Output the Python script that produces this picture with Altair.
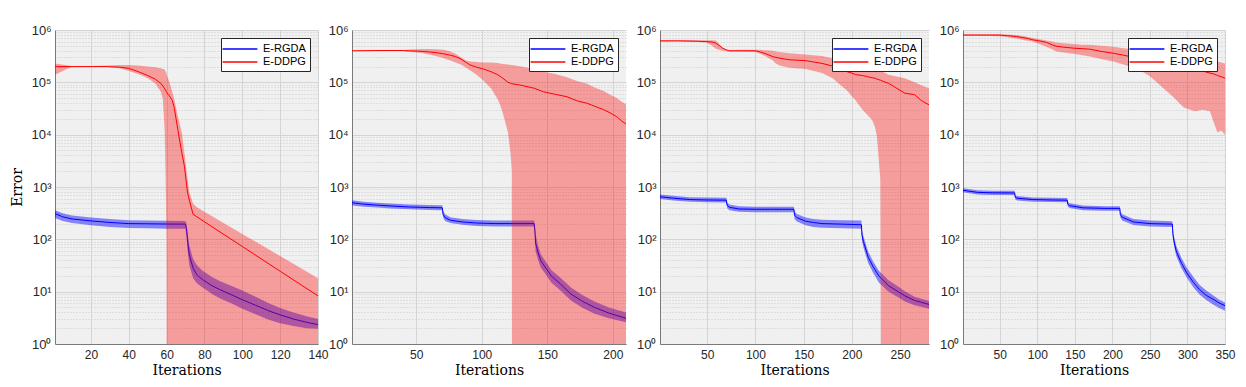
import altair as alt
import pandas as pd

SERIES = ["E-RGDA", "E-DDPG"]
COLORS = ["#0000ff", "#ff0000"]
Y_TICKS = [1, 2, 3, 4, 5, 6, 7, 8, 9, 10, 20, 30, 40, 50, 60, 70, 80, 90,
           100, 200, 300, 400, 500, 600, 700, 800, 900,
           1000, 2000, 3000, 4000, 5000, 6000, 7000, 8000, 9000,
           10000, 20000, 30000, 40000, 50000, 60000, 70000, 80000, 90000,
           100000, 200000, 300000, 400000, 500000, 600000, 700000, 800000, 900000, 1000000]
X_MAX = [140, 210, 280, 350]
X_TICKS = [[20, 40, 60, 80, 100, 120, 140], [50, 100, 150, 200],
           [50, 100, 150, 200, 250], [50, 100, 150, 200, 250, 300, 350]]
WIDTHS = [263, 274, 269, 262]

# ---------------- panel 1 ----------------
P1_DD_X = [1, 10, 20, 28, 35, 40, 45, 50, 54, 57, 58, 59, 59.5, 59.9, 60, 61.5, 63, 64, 66, 68,
           69.4, 71, 72, 74, 76, 80, 100, 120, 140]
P1_DD_MEAN = [2.0e5, 2.0e5, 2.0e5, 2.0e5, 1.95e5, 1.85e5, 1.6e5, 1.35e5, 1.15e5, 9.5e4,
              8.5e4, 7.5e4, 7.0e4, 6.6e4, 6.4e4, 5.5e4, 4.5e4, 3.3e4, 1.2e4, 4.5e3,
              2.5e3, 800, 560, 300, 270, 216, 73, 24.6, 8.3]
P1_DD_HI = [2.3e5, 2.05e5, 2.05e5, 2.1e5, 2.15e5, 2.15e5, 2.1e5, 2.0e5, 1.95e5, 1.85e5,
            1.8e5, 1.75e5, 1.6e5, 1.5e5, 1.4e5, 1.0e5, 6.5e4, 4.8e4, 2.2e4, 1.1e4,
            4.5e3, 1.5e3, 800, 480, 410, 336, 127, 48, 18]
P1_DD_LO = [1.4e5, 2.0e5, 2.0e5, 1.98e5, 1.85e5, 1.65e5, 1.44e5, 1.2e5, 9.5e4, 6.5e4,
            4.8e4, 1.1e4, 1.2e3, 100, 1, 1, 1, 1, 1, 1,
            1, 1, 1, 1, 1, 1, 1, 1, 1]
P1_RG_X = [1, 5, 10, 20, 30, 40, 50, 60, 69.9, 70.5, 71, 72, 74, 76, 79, 84, 88, 95, 100, 107,
           114, 120, 127, 134, 140]
P1_RG_MEAN = [310, 270, 245, 225, 210, 200, 198, 196, 195, 160, 100, 50, 28, 21, 17, 13, 11, 8.5, 7, 5.5,
              4.3, 3.6, 3.0, 2.6, 2.35]
P1_RG_HI = [360, 315, 285, 260, 245, 232, 228, 226, 225, 200, 140, 75, 42, 32, 25, 19, 16, 12.5, 10.5, 8,
            6, 4.9, 4, 3.4, 3.0]
P1_RG_LO = [255, 225, 205, 185, 172, 165, 162, 160, 160, 120, 65, 32, 18, 14.5, 12, 9, 7.5, 5.8, 4.7, 3.7,
            2.9, 2.5, 2.2, 2.0, 1.95]

# ---------------- panel 2 ----------------
P2_DD_X = [1, 20, 40, 45, 50, 55, 60, 65, 71, 76, 80, 84, 88, 91, 96, 101, 107, 112, 114, 116,
           120, 122, 122.9, 123, 130, 140, 147, 156, 165, 173, 180, 186, 193, 198, 203, 207, 210]
P2_DD_MEAN = [4.0e5, 4.05e5, 4.05e5, 4.0e5, 3.95e5, 3.9e5, 3.8e5, 3.7e5, 3.5e5, 3.3e5,
              3.1e5, 2.8e5, 2.4e5, 2.15e5, 1.95e5, 1.8e5, 1.6e5, 1.4e5, 1.3e5, 1.2e5,
              1.0e5, 9.6e4, 9.4e4, 9.4e4, 8.8e4, 7.7e4, 6.6e4, 5.9e4, 5.3e4, 4.4e4,
              4.0e4, 3.5e4, 3.0e4, 2.6e4, 2.2e4, 1.8e4, 1.6e4]
P2_DD_HI = [4.05e5, 4.1e5, 4.15e5, 4.25e5, 4.3e5, 4.35e5, 4.35e5, 4.3e5, 4.2e5, 3.9e5,
            3.5e5, 3.0e5, 2.6e5, 2.5e5, 2.45e5, 2.4e5, 2.4e5, 2.35e5, 2.3e5, 2.25e5,
            2.2e5, 2.15e5, 2.15e5, 2.15e5, 2.0e5, 1.8e5, 1.6e5, 1.45e5, 1.25e5, 1.05e5,
            9.5e4, 8.0e4, 6.8e4, 5.8e4, 5.0e4, 4.2e4, 3.8e4]
P2_DD_LO = [3.95e5, 4.0e5, 3.95e5, 3.8e5, 3.7e5, 3.6e5, 3.4e5, 3.2e5, 2.9e5, 2.6e5,
            2.4e5, 2.2e5, 1.9e5, 1.7e5, 1.4e5, 1.1e5, 7.7e4, 4.8e4, 3.7e4, 2.6e4,
            1.1e4, 4.2e3, 2.0e3, 1, 1, 1, 1, 1, 1, 1,
            1, 1, 1, 1, 1, 1, 1]
P2_RG_X = [1, 10, 20, 30, 45, 60, 69.9, 70.5, 72, 76, 85, 96, 110, 122, 139.9, 140.5, 141, 143, 145, 149,
           153, 160, 168, 177, 186, 197, 210]
P2_RG_MEAN = [500, 470, 450, 435, 415, 405, 400, 300, 260, 232, 215, 205, 200, 200, 200, 150, 85, 55, 39, 28,
              20, 14, 9, 6.5, 5, 3.9, 3.1]
P2_RG_HI = [560, 525, 500, 485, 465, 455, 450, 350, 300, 265, 245, 235, 230, 228, 228, 190, 125, 75, 52, 37,
            26, 18.5, 12, 8.5, 6.5, 5, 4.0]
P2_RG_LO = [445, 420, 405, 390, 375, 365, 360, 260, 225, 205, 190, 180, 176, 176, 176, 115, 60, 40, 29, 21,
            15, 10.5, 6.8, 4.9, 3.8, 3.1, 2.6]

# ---------------- panel 3 ----------------
P3_DD_X = [1, 20, 40, 49, 55, 59, 62, 66, 70, 73, 85, 100, 105, 111, 118, 121, 125, 135, 152, 169,
           180, 186, 195, 200, 204, 211, 215, 221, 224, 226, 229.5, 230, 232, 238, 245, 255, 265, 272, 280]
P3_DD_MEAN = [6.2e5, 6.2e5, 6.1e5, 6.0e5, 5.9e5, 5.6e5, 5.1e5, 4.5e5, 4.15e5, 4.0e5,
              4.0e5, 4.0e5, 3.8e5, 3.5e5, 3.1e5, 3.0e5, 2.9e5, 2.7e5, 2.6e5, 2.3e5,
              2.05e5, 1.9e5, 1.6e5, 1.5e5, 1.4e5, 1.35e5, 1.3e5, 1.22e5, 1.2e5, 1.15e5,
              1.1e5, 1.1e5, 1.05e5, 9.6e4, 8.0e4, 6.2e4, 5.8e4, 4.5e4, 3.7e4]
P3_DD_HI = [6.4e5, 6.4e5, 6.4e5, 6.4e5, 6.4e5, 6.3e5, 5.5e5, 4.6e5, 4.2e5, 4.15e5,
            4.2e5, 4.2e5, 4.2e5, 4.1e5, 4.0e5, 3.9e5, 3.8e5, 3.6e5, 3.4e5, 3.2e5,
            2.9e5, 2.6e5, 2.35e5, 2.25e5, 2.15e5, 2.05e5, 2.0e5, 1.9e5, 1.8e5, 1.75e5,
            1.65e5, 1.65e5, 1.6e5, 1.4e5, 1.3e5, 1.2e5, 1.0e5, 8.8e4, 7.7e4]
P3_DD_LO = [6.0e5, 6.0e5, 5.9e5, 5.8e5, 5.0e5, 4.4e5, 4.2e5, 4.0e5, 3.95e5, 3.9e5,
            3.9e5, 3.8e5, 3.5e5, 3.1e5, 2.6e5, 2.3e5, 2.1e5, 1.9e5, 1.8e5, 1.5e5,
            1.2e5, 9.6e4, 7.0e4, 5.4e4, 4.5e4, 3.0e4, 2.5e4, 1.9e4, 1.4e4, 9.3e3,
            1.4e3, 1, 1, 1, 1, 1, 1, 1, 1]
P3_RG_X = [1, 15, 32, 50, 69.9, 70.5, 73, 83, 100, 120, 139.9, 140.5, 143, 152, 160, 169, 190, 209.9, 210.5, 212,
           217, 222, 228, 238, 248, 255, 265, 280]
P3_RG_MEAN = [650, 610, 575, 565, 560, 450, 410, 380, 375, 375, 375, 290, 260, 222, 210, 200, 195, 190, 120, 90,
              45, 30, 20, 13, 10, 8.3, 6.8, 5.7]
P3_RG_HI = [720, 680, 640, 630, 625, 510, 465, 430, 420, 420, 420, 340, 305, 262, 245, 238, 232, 230, 150, 115,
            58, 38, 25, 16.5, 12.5, 10.2, 8, 6.6]
P3_RG_LO = [590, 550, 520, 510, 505, 395, 360, 335, 330, 330, 330, 245, 220, 185, 172, 166, 163, 160, 95, 70,
            35, 23, 15, 10, 7.8, 6.5, 5.5, 4.7]

# ---------------- panel 4 ----------------
P4_DD_X = [0, 20, 50, 60, 72, 85, 94, 105, 112, 120, 125, 135, 148, 160, 170, 185, 201, 215, 228, 240,
           250, 265, 280, 295, 310, 320, 330, 335, 340, 345, 350]
P4_DD_MEAN = [8.0e5, 8.0e5, 8.0e5, 7.8e5, 7.5e5, 7.0e5, 6.5e5, 6.1e5, 5.8e5, 5.2e5,
              4.9e5, 4.7e5, 4.5e5, 4.4e5, 4.3e5, 3.9e5, 3.6e5, 3.3e5, 3.0e5, 2.8e5,
              2.6e5, 2.3e5, 2.1e5, 1.9e5, 1.75e5, 1.65e5, 1.5e5, 1.45e5, 1.35e5, 1.28e5, 1.2e5]
P4_DD_HI = [8.3e5, 8.3e5, 8.3e5, 8.2e5, 8.0e5, 7.5e5, 7.0e5, 6.6e5, 6.3e5, 6.0e5,
            5.8e5, 5.6e5, 5.4e5, 5.2e5, 5.2e5, 5.0e5, 4.8e5, 4.5e5, 4.3e5, 4.0e5,
            3.8e5, 3.6e5, 3.4e5, 3.2e5, 3.0e5, 2.9e5, 2.7e5, 2.6e5, 2.5e5, 2.4e5, 2.3e5]
P4_DD_LO = [7.8e5, 7.8e5, 7.6e5, 7.3e5, 6.9e5, 6.3e5, 6.0e5, 5.2e5, 4.8e5, 4.3e5,
            3.9e5, 3.7e5, 3.5e5, 3.3e5, 3.1e5, 2.8e5, 2.5e5, 2.2e5, 1.9e5, 1.6e5,
            1.3e5, 8.4e4, 5.4e4, 3.3e4, 2.8e4, 3.0e4, 2.8e4, 1.7e4, 1.1e4, 1.2e4, 1.0e4]
P4_RG_X = [0, 20, 40, 69.9, 70.5, 73, 94, 120, 139.9, 140.5, 143, 161, 190, 209.9, 210.5, 213, 228, 250, 279.9, 280.5,
           282, 285, 292, 299, 308, 316, 325, 334, 342, 350]
P4_RG_MEAN = [870, 790, 775, 770, 640, 610, 575, 565, 560, 470, 440, 400, 390, 390, 300, 265, 215, 200, 195, 130,
              94, 60, 35, 23, 15, 11, 8.5, 7.2, 6.1, 5.4]
P4_RG_HI = [950, 870, 850, 845, 700, 670, 630, 620, 615, 520, 490, 445, 430, 430, 340, 300, 245, 228, 222, 160,
            115, 75, 44, 29, 19, 13.5, 10.5, 8.5, 7.1, 6.2]
P4_RG_LO = [800, 720, 705, 700, 585, 555, 525, 515, 510, 425, 395, 360, 352, 350, 260, 230, 188, 175, 172, 105,
            75, 48, 28, 18.6, 12, 8.8, 6.9, 5.7, 4.9, 4.3]

PANELS = [
    (P1_RG_X, P1_RG_MEAN, P1_RG_LO, P1_RG_HI, P1_DD_X, P1_DD_MEAN, P1_DD_LO, P1_DD_HI),
    (P2_RG_X, P2_RG_MEAN, P2_RG_LO, P2_RG_HI, P2_DD_X, P2_DD_MEAN, P2_DD_LO, P2_DD_HI),
    (P3_RG_X, P3_RG_MEAN, P3_RG_LO, P3_RG_HI, P3_DD_X, P3_DD_MEAN, P3_DD_LO, P3_DD_HI),
    (P4_RG_X, P4_RG_MEAN, P4_RG_LO, P4_RG_HI, P4_DD_X, P4_DD_MEAN, P4_DD_LO, P4_DD_HI),
]

MAJOR = "abs(log(datum.value)/LN10 - round(log(datum.value)/LN10)) < 0.001"
SUP = "['\u2070','\u00b9','\u00b2','\u00b3','\u2074','\u2075','\u2076']"
LABEL_EXPR = f"{MAJOR} ? '10' + {SUP}[round(log(datum.value)/LN10)] : ''"

LABEL_FONT = "Liberation Sans"
TITLE_FONT = "DejaVu Serif"


def y_axis(show_title):
    kw = dict(values=Y_TICKS, labelExpr=LABEL_EXPR, labelOverlap=False, grid=True,
              gridDash={"condition": {"test": MAJOR, "value": []}, "value": [1, 2]},
              gridColor={"condition": {"test": MAJOR, "value": "#d4d4d4"}, "value": "#cccccc"},
              ticks=False, domainColor="#7a7a7a", labelFont=LABEL_FONT, labelFontSize=13,
              labelColor="#262626", labelPadding=4, minExtent=28, maxExtent=28)
    if show_title:
        kw.update(title="Error", titleFont=TITLE_FONT, titleFontSize=14, titleFontWeight="normal",
                  titleColor="#000000", titlePadding=3)
    else:
        kw.update(title=None)
    return alt.Axis(**kw)


def x_axis(ticks):
    return alt.Axis(values=ticks, labelFlush=False, grid=True, gridColor="#d4d4d4", ticks=False,
                    domainColor="#7a7a7a", labelFont=LABEL_FONT, labelFontSize=12, labelColor="#262626",
                    labelPadding=5, title="Iterations", titleFont=TITLE_FONT, titleFontSize=14,
                    titleFontWeight="normal", titleColor="#000000", titlePadding=3)


def make_panel(i):
    rx, rm, rl, rh, dx, dm, dl, dh = PANELS[i]
    rg = pd.DataFrame({"x": rx, "mean": rm, "lo": rl, "hi": rh, "series": SERIES[0]})
    dd = pd.DataFrame({"x": dx, "mean": dm, "lo": dl, "hi": dh, "series": SERIES[1]})
    xs = alt.X("x:Q", scale=alt.Scale(domain=[1, X_MAX[i]], nice=False, zero=False), axis=x_axis(X_TICKS[i]))
    yscale = alt.Scale(type="log", domain=[1, 1e6], nice=False)
    yax = y_axis(i == 0)
    color = alt.Color("series:N", scale=alt.Scale(domain=SERIES, range=COLORS),
                      legend=alt.Legend(title=None, orient="top-right", offset=8, fillColor="#ffffff",
                                        strokeColor="#262626", padding=4, labelFont=LABEL_FONT,
                                        labelFontSize=11, labelColor="#000000",
                                        symbolType="M-2.9,0H2.9", symbolSize=144, symbolStrokeWidth=1.3,
                                        symbolOffset=8, labelOffset=16, rowPadding=1))

    def band(df, c, op):
        return alt.Chart(df).mark_area(color=c, opacity=op, clip=True).encode(
            x=xs, y=alt.Y("lo:Q", scale=yscale, axis=yax), y2="hi:Q")

    def line(df):
        return alt.Chart(df).mark_line(strokeWidth=1, clip=True).encode(
            x=xs, y=alt.Y("mean:Q", scale=yscale, axis=yax), color=color)

    return alt.layer(band(rg, COLORS[0], 0.45), line(rg), band(dd, COLORS[1], 0.35), line(dd)).properties(
        width=WIDTHS[i], height=314)


chart = alt.hconcat(*[make_panel(i) for i in range(4)], spacing=34, bounds="flush").resolve_scale(
    color="independent").properties(
    padding={"left": 2, "top": 16, "right": 0, "bottom": 0}
).configure_view(fill="#f0f0f0", strokeWidth=0)

chart.save("out.html", embed_options={"renderer": "svg", "actions": False})
